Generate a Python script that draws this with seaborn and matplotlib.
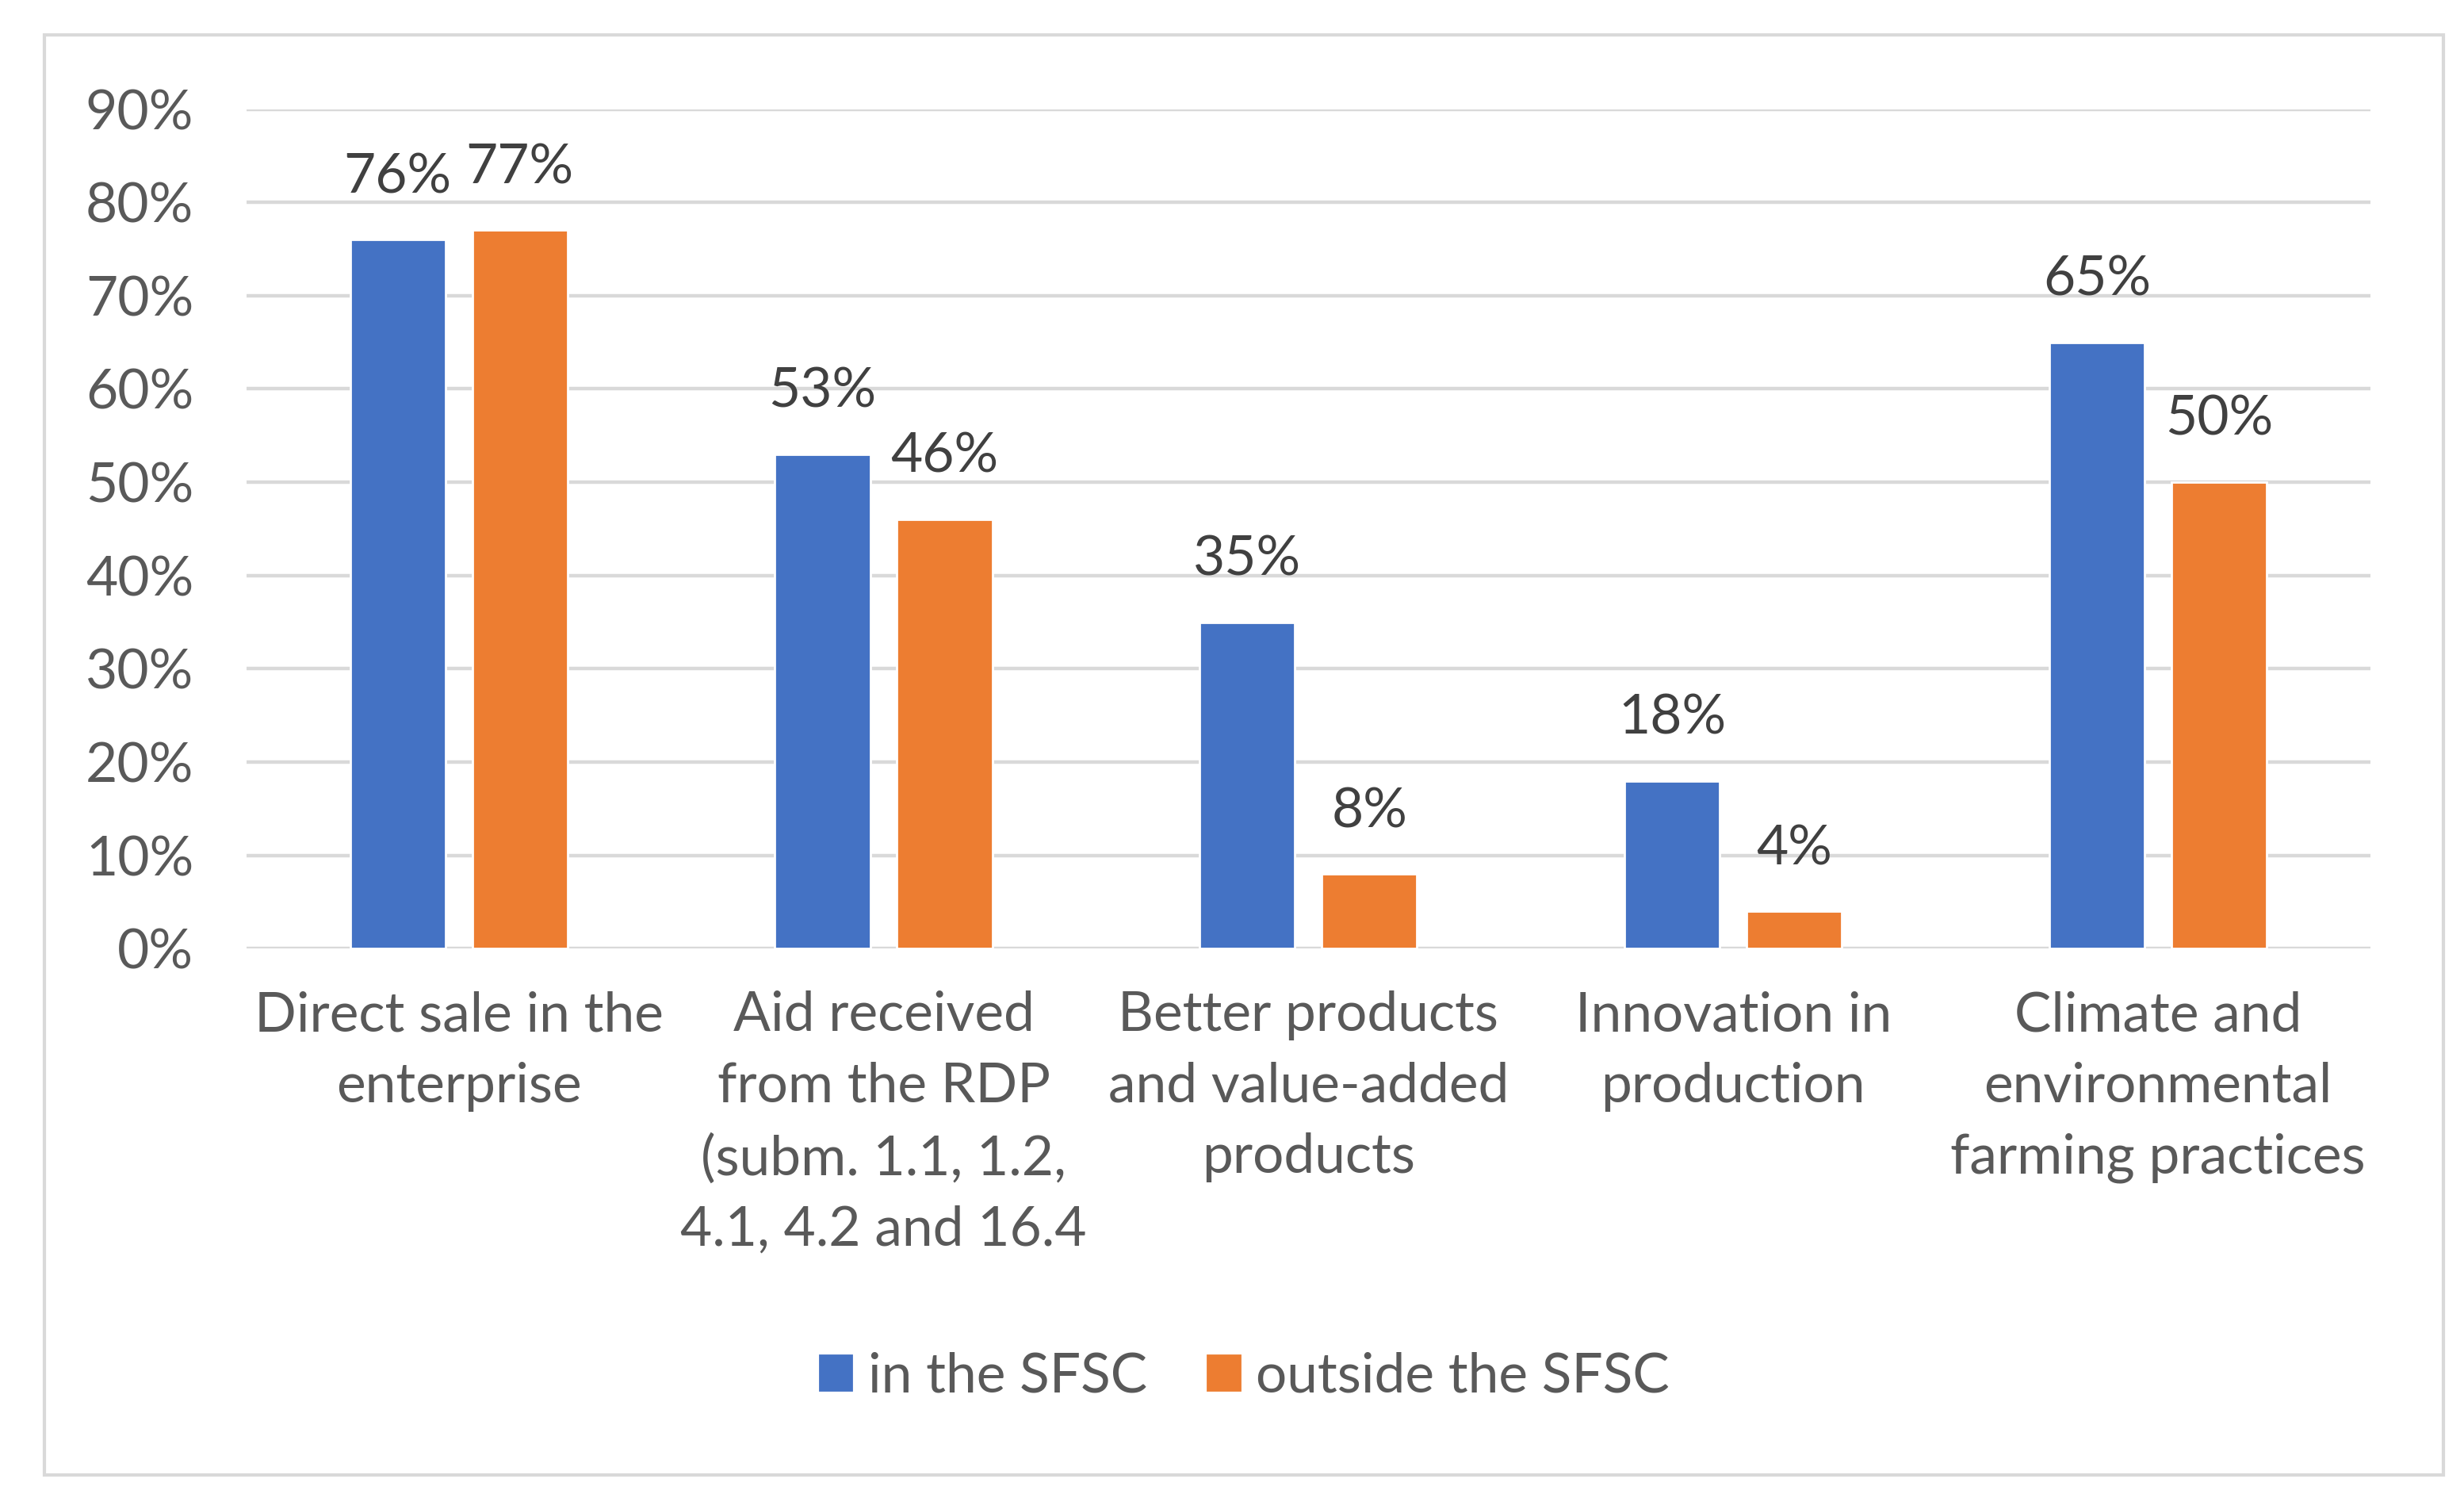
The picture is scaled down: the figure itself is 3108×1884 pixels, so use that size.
import pandas as pd
import matplotlib.pyplot as plt
import matplotlib.patches as mpatches
from matplotlib.ticker import PercentFormatter
import seaborn as sns

categories = [
    "Direct sale in the\nenterprise",
    "Aid received\nfrom the RDP\n(subm. 1.1, 1.2,\n4.1, 4.2 and 16.4",
    "Better products\nand value-added\nproducts",
    "Innovation in\nproduction",
    "Climate and\nenvironmental\nfarming practices",
]
in_sfsc = [0.76, 0.53, 0.35, 0.18, 0.65]
outside_sfsc = [0.77, 0.46, 0.08, 0.04, 0.50]
series_names = ["in the SFSC", "outside the SFSC"]
colors = ["#4472C4", "#ED7D31"]

df = pd.DataFrame({
    "category": categories * 2,
    "share": in_sfsc + outside_sfsc,
    "group": [series_names[0]] * len(categories) + [series_names[1]] * len(categories),
})

sns.set_style("white")
plt.rcParams["font.family"] = ["Lato", "DejaVu Sans"]
fs = 25

fig = plt.figure(figsize=(15.54, 9.42), dpi=200)
ax = fig.add_axes([0.1, 0.365, 0.862, 0.562])

sns.barplot(data=df, x="category", y="share", hue="group", palette=colors,
            width=0.575, gap=0.22, order=categories, hue_order=series_names,
            saturation=1, ax=ax, legend=False)

ax.set_ylim(0, 0.9)
ax.set_yticks([i / 10 for i in range(10)])
ax.yaxis.set_major_formatter(PercentFormatter(1.0, decimals=0))
ax.grid(axis="y", color="#d9d9d9", linewidth=1.6)
ax.set_axisbelow(True)
for s in ax.spines.values():
    s.set_visible(False)
ax.set_xlabel("")
ax.set_ylabel("")
ax.tick_params(axis="both", length=0, labelsize=fs, labelcolor="#595959")
ax.tick_params(axis="y", pad=24)
ax.tick_params(axis="x", pad=19)
for lbl in ax.get_xticklabels():
    lbl.set_linespacing(1.52)
    lbl.set_verticalalignment("top")

for cont in ax.containers:
    ax.bar_label(cont, labels=[f"{v * 100:.0f}%" for v in cont.datavalues],
                 padding=17, fontsize=fs, color="#404040")

handles = [mpatches.Patch(color=c, label=n) for c, n in zip(colors, series_names)]
fig.legend(handles=handles, loc="center", bbox_to_anchor=(785 / 1554, 1 - 868 / 942), ncol=2,
           frameon=False, fontsize=fs, labelcolor="#595959", handlelength=0.58,
           handleheight=0.58, handletextpad=0.3, columnspacing=1.1)

fig.add_artist(mpatches.Rectangle((28 / 1554, 1 - 930 / 942), (1541 - 28) / 1554,
                                  (930 - 22) / 942, transform=fig.transFigure,
                                  fill=False, edgecolor="#d9d9d9", linewidth=1.5))

fig.savefig("out.png", dpi=200, facecolor="white")
